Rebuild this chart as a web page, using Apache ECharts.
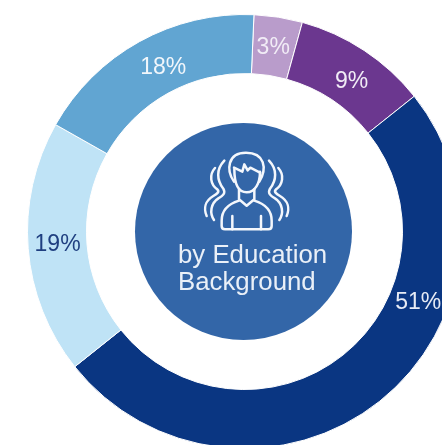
<!DOCTYPE html>
<html>
<head>
<meta charset="utf-8">
<style>html,body{margin:0;padding:0;background:#fff}#c{width:442px;height:445px}</style>
<script src="https://cdn.jsdelivr.net/npm/echarts@6/dist/echarts.min.js"></script>
</head>
<body>
<div id="c"></div>
<script>
const categories = ['A', 'B', 'C', 'D', 'E'];
const sliceShares = [3.6, 10, 50, 18.9, 17.5];
const shownLabels = ['3%', '9%', '51%', '19%', '18%'];
const sliceColors = ['#b99ccb', '#6b378f', '#0a3682', '#bfe3f6', '#61a5d2'];
const labelColors = ['#f1ecf6', '#f1ecf6', '#e6ebf5', '#1f3f80', '#f1f6fb'];
const labelNudgeX = [-1, 2, 55, 3, 11];
const labelNudgeY = [4, 9, -78, -2, 3];
const centerLines = 'by Education\nBackground';

const chart = echarts.init(document.getElementById('c'), null, {renderer: 'canvas'});
const iconPaths = [
  'M192 155 C168 120 172 68 228 68 C284 68 292 115 268 155',
  'M192 113 L217 125 L223 103 L233 121 L241 113 L270 128',
  'M193 118 C193 160 205 187 230 187 C255 187 270 160 270 125',
  'M207 178 L207 208 L230 227 L253 208 L253 178',
  'M207 212 C175 222 155 240 155 272 L155 288 Q155 298 165 298 L295 298 Q305 298 305 288 L305 272 C305 240 285 222 253 212',
  'M187 258 L187 298 M273 258 L273 298',
  'M163 92 C138 118 140 150 160 176 C168 190 158 198 145 205 C122 220 118 250 132 270',
  'M135 114 C116 135 122 165 142 178 C150 186 140 192 130 198 C106 212 100 235 110 258',
  'M297 92 C322 118 320 150 300 176 C292 190 302 198 315 205 C338 220 342 250 328 270',
  'M325 114 C344 135 338 165 318 178 C310 186 320 192 330 198 C354 212 360 235 350 258'
];
iconPaths.forEach((d, i) => {
  echarts.graphic.registerShape('iconPart' + i, echarts.graphic.extendPath(d));
});
chart.setOption({
  animation: false,
  backgroundColor: '#ffffff',
  series: [
    {
      type: 'pie',
      silent: true,
      z: 1,
      center: [243.5, 231.5],
      radius: [0, 108.5],
      label: {show: false},
      labelLine: {show: false},
      data: [{value: 1, itemStyle: {color: '#3366a8'}}]
    },
    {
      type: 'pie',
      silent: true,
      z: 1,
      center: [244.5, 231.5],
      radius: [158, 217],
      startAngle: 87.5,
      clockwise: true,
      avoidLabelOverlap: false,
      itemStyle: {borderColor: '#ffffff', borderWidth: 1},
      labelLine: {show: false},
      label: {
        position: 'inside',
        fontFamily: '"Liberation Sans", Arial, sans-serif',
        fontSize: 23
      },
      labelLayout: (p) => ({dx: labelNudgeX[p.dataIndex], dy: labelNudgeY[p.dataIndex]}),
      data: categories.map((name, i) => ({
        name,
        value: sliceShares[i],
        itemStyle: {color: sliceColors[i]},
        label: {formatter: shownLabels[i], color: labelColors[i]}
      }))
    }
  ],
  graphic: {
    elements: [
      {
        type: 'group',
        x: 170, y: 130, scaleX: 1 / 3, scaleY: 1 / 3,
        silent: true,
        z: 50,
        children: iconPaths.map((d, i) => ({
          type: 'iconPart' + i,
          z: 50,
          shape: {},
          style: {fill: 'none', stroke: '#f4f7fc', lineWidth: 7.5, lineCap: 'round', lineJoin: 'round'}
        }))
      },
      {
        type: 'text',
        x: 178, y: 242,
        z: 50,
        silent: true,
        style: {
          text: centerLines,
          fill: '#eaf0f8',
          font: '25.8px "Liberation Sans", Arial, sans-serif',
          lineHeight: 27,
          align: 'left',
          verticalAlign: 'top'
        }
      }
    ]
  }
});
</script>
</body>
</html>
